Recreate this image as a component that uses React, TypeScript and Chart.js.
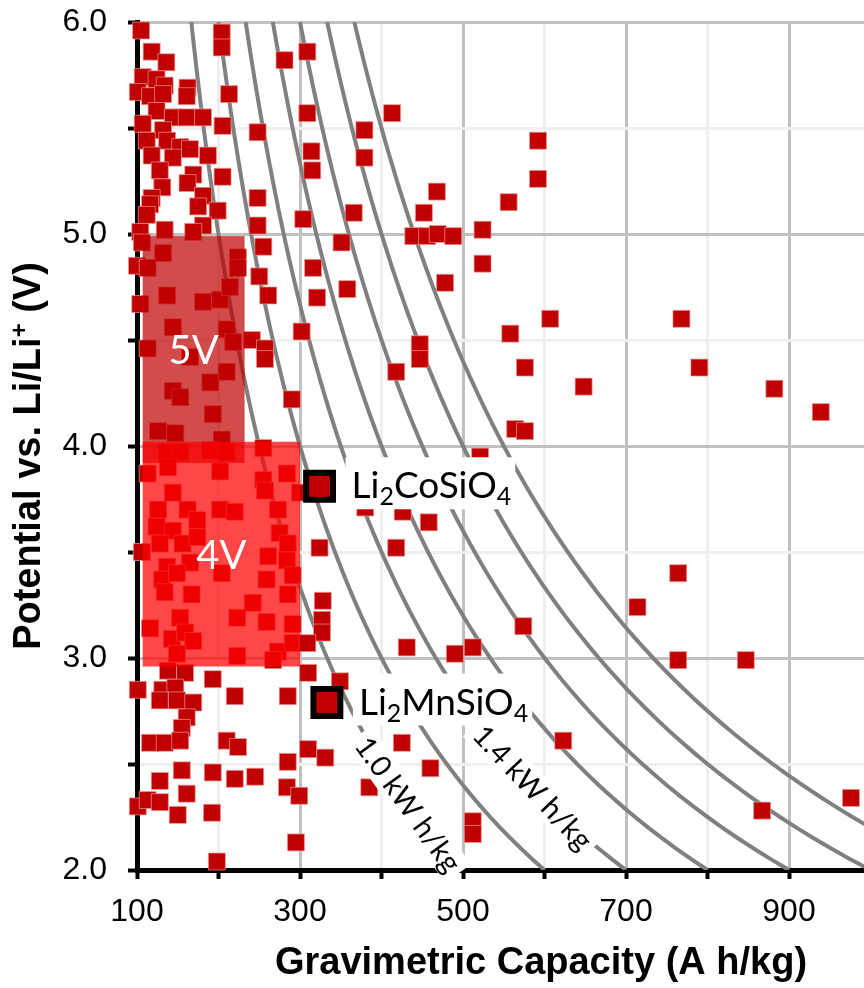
import React, { useEffect, useRef } from 'react';
import { Chart, registerables } from 'chart.js';

Chart.register(...registerables);

// ---------- axes ----------
const capacityMin = 100;
const capacityMax = 992;
const potentialMin = 2;
const potentialMax = 6;
const capacityTicks = [100, 200, 300, 400, 500, 600, 700, 800, 900];
const capacityLabelTicks = [100, 300, 500, 700, 900];
const potentialTicks = [2, 2.5, 3, 3.5, 4, 4.5, 5, 5.5, 6];
const potentialLabelTicks = [2, 3, 4, 5, 6];

// ---------- iso-energy curves (kW h/kg) ----------
const energyLevels = [1.0, 1.2, 1.4, 1.6, 1.8, 2.0, 2.2];
const energyLabelLevels = [1.0, 1.4];
const energyLabelPotentials = [2.31, 2.39];

// ---------- shaded regions ----------
const boxNames = ['5V', '4V'];
const boxCapacityMin = [107, 107];
const boxCapacityMax = [232, 300];
const boxPotentialMin = [3.92, 2.96];
const boxPotentialMax = [4.99, 4.02];
const boxColors = ['rgba(192,0,0,0.7)', 'rgba(255,0,0,0.72)'];

// ---------- highlighted compounds ----------
const compoundNames = ['Li2CoSiO4', 'Li2MnSiO4'];
const compoundCapacity = [324, 333];
const compoundPotential = [3.81, 2.79];

// ---------- materials (capacity A h/kg, potential V) ----------
const pointCapacity = [
  105, 204, 204, 281, 118, 136, 107, 124, 134, 101, 116, 132, 162, 161, 213, 124, 144, 107, 132, 161,
  181, 205, 248, 112, 137, 153, 165, 118, 144, 187, 205, 128, 131, 169, 162, 118, 181, 248,
  116, 175, 199, 112, 181, 134, 169, 248, 304, 104, 106, 132, 224, 224, 255, 100, 113, 316, 351, 358,
  250, 261, 137, 104, 181, 202, 214, 321, 144, 210, 218, 241, 257, 257, 113, 165, 210, 190, 144, 153,
  302, 290, 193, 126, 147, 204,
  255, 137, 153, 190, 210, 113, 138, 202, 255, 284, 257, 144, 300, 126, 162, 202, 220, 273, 124, 174,
  144, 275, 106, 128, 156, 174, 285, 261, 284, 137, 165, 204, 131, 149, 291, 259, 134, 167, 285, 242,
  223, 259, 116, 153, 291, 143, 159, 169, 273, 291, 324, 328, 327, 327, 309,
  149, 223, 267, 138, 159, 310, 193, 101, 131, 147, 128, 149, 169, 220, 285, 161, 155, 116, 134, 153,
  210, 224, 310, 331, 285, 155, 128, 193, 220, 245, 284, 299, 161, 101, 113, 128, 150, 192, 295, 198,
  521, 380, 426, 458, 418, 431, 490, 512, 574, 349, 425, 623, 460, 385, 512, 512,
  309, 309, 413, 379, 314, 315, 379, 592, 592, 468, 556, 452, 366, 439, 456, 469, 488, 524, 524, 478,
  558, 607, 447, 447, 418, 576, 648, 564, 576, 768, 790, 882, 939, 764, 714, 764, 847, 867, 976,
];
const pointPotential = [
  5.96, 5.95, 5.88, 5.82, 5.86, 5.81, 5.74, 5.73, 5.70, 5.67, 5.65, 5.66, 5.69, 5.65, 5.66, 5.58, 5.55, 5.52, 5.49, 5.55,
  5.55, 5.51, 5.48, 5.44, 5.44, 5.41, 5.40, 5.37, 5.36, 5.37, 5.27, 5.30, 5.22, 5.28, 5.24, 5.17, 5.18, 5.17,
  5.14, 5.13, 5.11, 5.09, 5.04, 5.02, 5.01, 5.04, 5.07, 5.01, 4.96, 4.91, 4.89, 4.84, 4.94, 4.85, 4.84, 4.84, 4.96, 4.74,
  4.80, 4.71, 4.71, 4.67, 4.68, 4.69, 4.75, 4.70, 4.56, 4.55, 4.49, 4.50, 4.46, 4.41, 4.46, 4.42, 4.35, 4.30, 4.26, 4.23,
  4.54, 4.22, 4.15, 4.07, 4.06, 4.03,
  3.99, 3.97, 3.97, 3.98, 3.97, 3.87, 3.90, 3.88, 3.84, 3.87, 3.79, 3.78, 3.78, 3.70, 3.70, 3.70, 3.69, 3.70, 3.62, 3.65,
  3.60, 3.59, 3.50, 3.54, 3.54, 3.57, 3.54, 3.48, 3.46, 3.43, 3.45, 3.40, 3.37, 3.40, 3.39, 3.37, 3.31, 3.30, 3.30, 3.26,
  3.19, 3.17, 3.14, 3.19, 3.16, 3.09, 3.12, 3.08, 3.03, 3.07, 3.52, 3.27, 3.18, 3.12, 3.07,
  3.02, 3.01, 2.99, 2.94, 2.93, 2.93, 2.90, 2.85, 2.85, 2.86, 2.80, 2.80, 2.79, 2.82, 2.82, 2.72, 2.67, 2.60, 2.60, 2.61,
  2.61, 2.58, 2.57, 2.53, 2.51, 2.47, 2.42, 2.46, 2.43, 2.44, 2.39, 2.35, 2.36, 2.30, 2.33, 2.32, 2.26, 2.27, 2.13, 2.04,
  3.95, 3.71, 3.69, 3.64, 3.52, 3.05, 3.02, 3.05, 3.15, 2.89, 2.60, 2.61, 2.48, 2.39, 2.23, 2.17,
  5.86, 5.57, 5.57, 5.49, 5.39, 5.30, 5.36, 5.44, 5.26, 5.20, 5.15, 5.10, 5.10, 4.99, 4.99, 5.00, 4.99, 5.02, 4.86, 4.77,
  4.53, 4.60, 4.48, 4.41, 4.35, 4.37, 4.28, 4.08, 4.07, 4.60, 4.37, 4.27, 4.16, 3.40, 3.24, 2.99, 2.99, 2.28, 2.34,
];

const AXIS_FONT = 'Liberation Sans';
const LABEL_FONT = 'Lato';

function formulaParts(text: string) {
  return (text.match(/[A-Za-z]+|\d+/g) || []).map((p) => ({ text: p, sub: /^\d+$/.test(p) }));
}

function zeroPadding(s: any) {
  s.paddingLeft = 0;
  s.paddingRight = 0;
  s.paddingTop = 0;
  s.paddingBottom = 0;
}

const overlayPlugin = {
  id: 'overlay',
  afterDatasetsDraw(chart: any) {
    const { ctx } = chart;
    const x = chart.scales.x;
    const y = chart.scales.y;
    ctx.save();

    // shaded voltage windows
    boxNames.forEach((_, i) => {
      const l = x.getPixelForValue(boxCapacityMin[i]);
      const r = x.getPixelForValue(boxCapacityMax[i]);
      const t = y.getPixelForValue(boxPotentialMax[i]);
      const b = y.getPixelForValue(boxPotentialMin[i]);
      ctx.fillStyle = boxColors[i];
      ctx.fillRect(l, t, r - l, b - t);
    });
    ctx.fillStyle = '#fff';
    ctx.font = `40px ${LABEL_FONT}`;
    ctx.textAlign = 'center';
    ctx.textBaseline = 'middle';
    boxNames.forEach((name, i) => {
      const cx = (x.getPixelForValue(boxCapacityMin[i]) + x.getPixelForValue(boxCapacityMax[i])) / 2;
      const cy = (y.getPixelForValue(boxPotentialMin[i]) + y.getPixelForValue(boxPotentialMax[i])) / 2;
      ctx.fillText(name, cx, cy + 2);
    });

    // iso-energy labels
    energyLabelLevels.forEach((e, i) => {
      const v = energyLabelPotentials[i];
      const px = x.getPixelForValue((e * 1000) / v);
      const py = y.getPixelForValue(v);
      const p1x = x.getPixelForValue((e * 1000) / (v + 0.02));
      const p1y = y.getPixelForValue(v + 0.02);
      const p2x = x.getPixelForValue((e * 1000) / (v - 0.02));
      const p2y = y.getPixelForValue(v - 0.02);
      const ang = Math.atan2(p2y - p1y, p2x - p1x);
      ctx.save();
      ctx.translate(px, py);
      ctx.rotate(ang);
      ctx.font = `29px ${LABEL_FONT}`;
      const text = e.toFixed(1) + ' kW h/kg';
      const w = ctx.measureText(text).width;
      ctx.fillStyle = '#fff';
      ctx.fillRect(-w / 2 - 6, -16, w + 12, 32);
      ctx.fillStyle = '#000';
      ctx.textAlign = 'center';
      ctx.textBaseline = 'middle';
      ctx.fillText(text, 0, 1);
      ctx.restore();
    });

    // compound labels
    compoundNames.forEach((name, i) => {
      const mx = x.getPixelForValue(compoundCapacity[i]);
      const my = y.getPixelForValue(compoundPotential[i]);
      const parts = formulaParts(name);
      const mainFont = `37px ${LABEL_FONT}`;
      const subFont = `25px ${LABEL_FONT}`;
      let w = 0;
      parts.forEach((p) => {
        ctx.font = p.sub ? subFont : mainFont;
        w += ctx.measureText(p.text).width;
      });
      const left = mx + 32;
      const base = my + 12;
      ctx.fillStyle = '#fff';
      ctx.fillRect(left - 6, my - 29, w + 10, 52);
      ctx.fillStyle = '#000';
      ctx.textAlign = 'left';
      ctx.textBaseline = 'alphabetic';
      let cx = left;
      parts.forEach((p) => {
        ctx.font = p.sub ? subFont : mainFont;
        ctx.fillText(p.text, cx, p.sub ? base + 7 : base);
        cx += ctx.measureText(p.text).width;
      });
    });
    ctx.restore();
  },
  afterDraw(chart: any) {
    const { ctx } = chart;
    ctx.save();
    ctx.fillStyle = '#000';
    ctx.textBaseline = 'middle';
    // x title
    ctx.font = `bold 38px ${AXIS_FONT}`;
    ctx.textAlign = 'center';
    ctx.fillText('Gravimetric Capacity (A h/kg)', 541, 964);
    // y title with superscript +
    ctx.translate(30, 456);
    ctx.rotate(-Math.PI / 2);
    const a = 'Potential vs. Li/Li';
    const sup = '+';
    const b = ' (V)';
    const big = `bold 38px ${AXIS_FONT}`;
    const small = `bold 24px ${AXIS_FONT}`;
    ctx.font = big;
    const wa = ctx.measureText(a).width;
    const wb = ctx.measureText(b).width;
    ctx.font = small;
    const ws = ctx.measureText(sup).width;
    let sx = -(wa + ws + wb) / 2;
    ctx.textAlign = 'left';
    ctx.font = big;
    ctx.fillText(a, sx, 0);
    sx += wa;
    ctx.font = small;
    ctx.fillText(sup, sx, -10);
    sx += ws;
    ctx.font = big;
    ctx.fillText(b, sx, 0);
    ctx.restore();
  },
};

function curvePoints(e: number) {
  const pts: { x: number; y: number }[] = [];
  for (let v = potentialMin; v <= potentialMax + 1e-9; v += 0.05) {
    pts.push({ x: (e * 1000) / v, y: v });
  }
  return pts;
}

export default function App() {
  const ref = useRef<HTMLCanvasElement>(null);
  useEffect(() => {
    if (!ref.current) return;
    const curveSets = energyLevels.map((e) => ({
      label: `${e.toFixed(1)} kW h/kg`,
      data: curvePoints(e),
      showLine: true,
      borderColor: '#808080',
      borderWidth: 4,
      pointRadius: 0,
      fill: false,
      order: 3,
    }));
    const chart = new Chart(ref.current, {
      type: 'scatter',
      data: {
        datasets: [
          ...curveSets,
          {
            label: 'Materials',
            data: pointCapacity.map((c, i) => ({ x: c, y: pointPotential[i] })),
            pointStyle: 'rect',
            pointRadius: 12,
            backgroundColor: '#c00000',
            borderColor: 'rgba(240,150,150,0.7)',
            borderWidth: 1,
            clip: false,
            order: 2,
          },
          {
            label: 'Silicates',
            data: compoundCapacity.map((c, i) => ({ x: c, y: compoundPotential[i] })),
            pointStyle: 'rect',
            pointRadius: 19,
            backgroundColor: '#c00000',
            borderColor: '#000',
            borderWidth: 6,
            clip: false,
            order: 1,
          },
        ] as any,
      },
      options: {
        animation: false,
        responsive: false,
        maintainAspectRatio: false,
        events: [],
        layout: { autoPadding: false, padding: { top: 22, right: 0, bottom: 0, left: 0 } },
        plugins: { legend: { display: false }, tooltip: { enabled: false } },
        scales: {
          x: {
            type: 'linear',
            min: capacityMin,
            max: capacityMax,
            afterBuildTicks: (s: any) => {
              s.ticks = capacityTicks.map((v) => ({ value: v }));
            },
            afterFit: (s: any) => {
              s.height = 118;
              zeroPadding(s);
            },
            grid: {
              color: (c: any) => (capacityLabelTicks.includes(c.tick?.value) ? '#c0c0c0' : '#efefef'),
              lineWidth: 3,
              tickColor: '#000',
              tickWidth: 4,
              tickLength: 9,
            },
            border: { color: '#000', width: 5 },
            ticks: {
              callback: (v: any) => (capacityLabelTicks.includes(Number(v)) ? String(v) : ''),
              font: { size: 32, family: AXIS_FONT },
              color: '#000',
              padding: 14,
              maxRotation: 0,
              autoSkip: false,
            },
          },
          y: {
            type: 'linear',
            min: potentialMin,
            max: potentialMax,
            afterBuildTicks: (s: any) => {
              s.ticks = potentialTicks.map((v) => ({ value: v }));
            },
            afterFit: (s: any) => {
              s.width = 137;
              zeroPadding(s);
            },
            grid: {
              color: (c: any) => (potentialLabelTicks.includes(c.tick?.value) ? '#c0c0c0' : '#efefef'),
              lineWidth: 3,
              tickColor: '#000',
              tickWidth: 4,
              tickLength: 9,
            },
            border: { color: '#000', width: 5 },
            ticks: {
              callback: (v: any) => (potentialLabelTicks.includes(Number(v)) ? Number(v).toFixed(1) : ''),
              font: { size: 32, family: AXIS_FONT },
              color: '#000',
              padding: 21,
              autoSkip: false,
            },
          },
        },
      } as any,
      plugins: [overlayPlugin],
    });
    return () => chart.destroy();
  }, []);
  return (
    <div style={{ position: 'fixed', left: 0, top: 0, width: 864, height: 988, background: '#fff' }}>
      <canvas ref={ref} width={864} height={988} style={{ display: 'block', width: 864, height: 988 }} />
    </div>
  );
}
